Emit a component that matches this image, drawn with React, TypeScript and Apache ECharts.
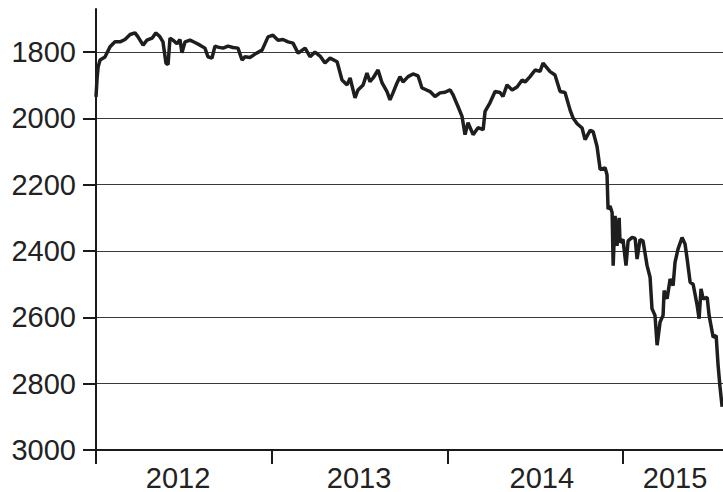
import React, { useEffect, useRef } from "react";
import * as echarts from "echarts";

// Decimal years (x)
const years: number[] = [
  2012.0, 2012.006, 2012.012, 2012.023, 2012.051, 2012.08, 2012.108, 2012.137, 2012.165, 2012.194,
  2012.222, 2012.239, 2012.268, 2012.29, 2012.319, 2012.341, 2012.364, 2012.381, 2012.398, 2012.41,
  2012.421, 2012.438, 2012.461, 2012.478, 2012.489, 2012.507, 2012.535, 2012.563, 2012.592, 2012.62,
  2012.637, 2012.66, 2012.677, 2012.694, 2012.723, 2012.751, 2012.78, 2012.808, 2012.831, 2012.848,
  2012.876, 2012.905, 2012.945, 2012.979, 2013.007, 2013.036, 2013.064, 2013.093, 2013.121, 2013.15,
  2013.19, 2013.218, 2013.246, 2013.275, 2013.303, 2013.332, 2013.372, 2013.4, 2013.429, 2013.446,
  2013.474, 2013.491, 2013.52, 2013.542, 2013.559, 2013.577, 2013.605, 2013.628, 2013.656, 2013.673,
  2013.69, 2013.713, 2013.73, 2013.747, 2013.776, 2013.804, 2013.833, 2013.855, 2013.872, 2013.901,
  2013.929, 2013.958, 2013.986, 2014.015, 2014.032, 2014.06, 2014.083, 2014.1, 2014.117, 2014.146,
  2014.174, 2014.203, 2014.214, 2014.242, 2014.271, 2014.299, 2014.316, 2014.339, 2014.368, 2014.396,
  2014.425, 2014.442, 2014.47, 2014.499, 2014.527, 2014.544, 2014.584, 2014.612, 2014.641, 2014.669,
  2014.698, 2014.715, 2014.738, 2014.766, 2014.783, 2014.812, 2014.829, 2014.851, 2014.869, 2014.897,
  2014.908, 2014.914, 2014.925, 2014.937, 2014.943, 2014.954, 2014.965, 2014.977, 2014.982, 2014.999,
  2015.016, 2015.028, 2015.051, 2015.068, 2015.079, 2015.096, 2015.113, 2015.136, 2015.153, 2015.164,
  2015.181, 2015.193, 2015.21, 2015.227, 2015.233, 2015.25, 2015.267, 2015.284, 2015.295, 2015.312,
  2015.335, 2015.352, 2015.364, 2015.381, 2015.398, 2015.421, 2015.432, 2015.443, 2015.455, 2015.478,
  2015.489, 2015.512, 2015.529, 2015.54, 2015.551, 2015.563,
];

// Values (y)
const values: number[] = [
  1935, 1880, 1845, 1824, 1815, 1784, 1769, 1769, 1762, 1747,
  1742, 1754, 1779, 1764, 1758, 1742, 1754, 1769, 1833, 1838,
  1758, 1764, 1775, 1762, 1802, 1769, 1764, 1771, 1779, 1788,
  1814, 1818, 1782, 1785, 1788, 1782, 1786, 1788, 1824, 1814,
  1816, 1806, 1794, 1754, 1749, 1764, 1762, 1769, 1773, 1803,
  1788, 1814, 1800, 1812, 1833, 1818, 1829, 1884, 1899, 1878,
  1938, 1914, 1899, 1863, 1889, 1878, 1854, 1893, 1919, 1944,
  1923, 1893, 1874, 1890, 1874, 1866, 1872, 1908, 1912, 1919,
  1934, 1923, 1921, 1914, 1929, 1964, 1994, 2049, 2013, 2049,
  2028, 2034, 1979, 1953, 1919, 1922, 1934, 1899, 1914, 1905,
  1884, 1890, 1874, 1854, 1858, 1833, 1859, 1869, 1919, 1922,
  1975, 1999, 2016, 2029, 2064, 2036, 2040, 2084, 2154, 2149,
  2170, 2274, 2264, 2284, 2444, 2294, 2384, 2300, 2374, 2365,
  2444, 2369, 2359, 2362, 2424, 2365, 2370, 2444, 2479, 2574,
  2594, 2684, 2614, 2594, 2519, 2544, 2484, 2504, 2434, 2394,
  2359, 2379, 2424, 2494, 2500, 2564, 2604, 2514, 2544, 2540,
  2594, 2660, 2655, 2744, 2810, 2870,
];

const yTicks: number[] = [1800, 2000, 2200, 2400, 2600, 2800, 3000];
const xTicks: number[] = [2012, 2013, 2014, 2015];
const xLabelPositions: number[] = [2012.467, 2013.497, 2014.537, 2015.295];
const xLabels: string[] = ["2012", "2013", "2014", "2015"];

export default function App() {
  const ref = useRef<HTMLDivElement>(null);
  useEffect(() => {
    if (!ref.current) return;
    const chart = echarts.init(ref.current, undefined, { renderer: "svg" });
    const font = "'Liberation Sans', Arial, Helvetica, sans-serif";
    chart.setOption({
      animation: false,
      backgroundColor: "#ffffff",
      grid: { left: 96, right: 0, top: 9, bottom: 40, containLabel: false },
      xAxis: {
        type: "value",
        min: 2012,
        max: 2015.568,
        axisLine: { show: true, lineStyle: { color: "#1a1a1a", width: 2 } },
        axisTick: {
          show: true,
          customValues: xTicks,
          length: 14,
          lineStyle: { color: "#1a1a1a", width: 2 },
        },
        axisLabel: {
          customValues: xLabelPositions,
          formatter: (v: number) => {
            const i = xLabelPositions.findIndex((p) => Math.abs(p - v) < 1e-6);
            return i >= 0 ? xLabels[i] : String(Math.floor(v));
          },
          color: "#222",
          fontSize: 29,
          fontFamily: font,
          margin: 13,
          hideOverlap: false,
        },
        splitLine: { show: false },
      },
      yAxis: {
        type: "value",
        inverse: true,
        min: 1670,
        max: 3000,
        axisLine: { show: true, lineStyle: { color: "#1a1a1a", width: 2 } },
        axisTick: {
          show: true,
          customValues: yTicks,
          length: 13,
          lineStyle: { color: "#1a1a1a", width: 2 },
        },
        axisLabel: {
          customValues: yTicks,
          formatter: (v: number) => String(v),
          color: "#222",
          fontSize: 29,
          fontFamily: font,
          margin: 20,
        },
        splitLine: { show: true, lineStyle: { color: "#3a3a3a", width: 1.2 } },
      },
      series: [
        {
          type: "line",
          data: years.map((y, i) => [y, values[i]]),
          showSymbol: false,
          symbol: "none",
          lineStyle: { color: "#1e1e1e", width: 3.5 },
          z: 5,
        },
      ],
    });
    return () => chart.dispose();
  }, []);
  return (
    <div
      ref={ref}
      style={{ position: "fixed", left: 0, top: 0, width: 723, height: 492 }}
    />
  );
}
